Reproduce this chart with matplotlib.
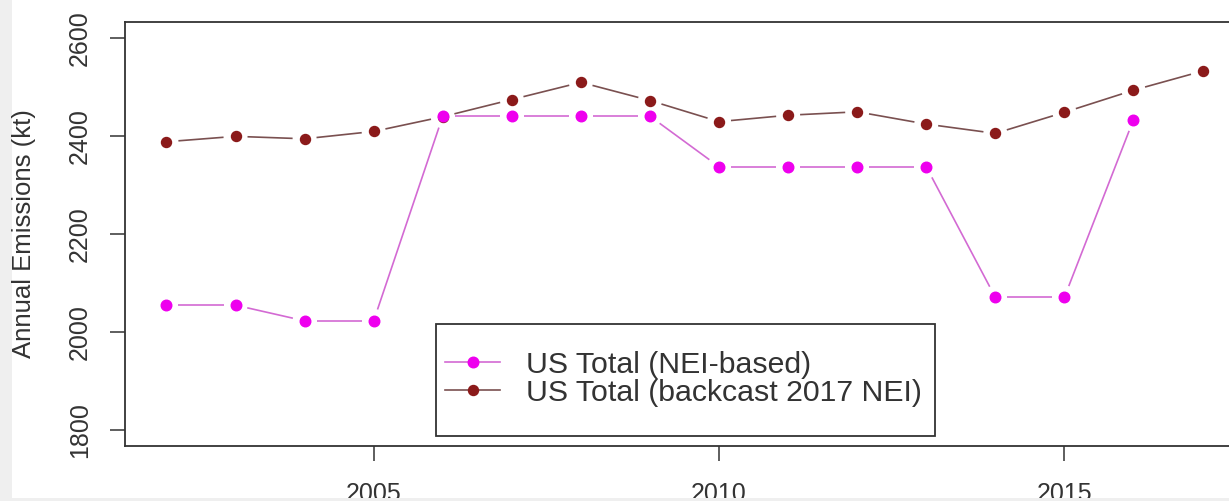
import numpy as np
import matplotlib
matplotlib.use("Agg")
import matplotlib.pyplot as plt
from matplotlib.lines import Line2D
from matplotlib.patches import Rectangle

# ---- data -------------------------------------------------------------
years = list(range(2002, 2018))
nei_years = list(range(2002, 2017))
nei_based = [2055, 2055, 2023, 2023, 2440, 2440, 2440, 2440,
             2337, 2337, 2337, 2337, 2071, 2071, 2433]
backcast_2017 = [2388, 2399, 2394, 2409, 2439, 2474, 2509, 2472,
                 2429, 2442, 2449, 2424, 2405, 2448, 2493, 2532]
y_ticks = [1800, 2000, 2200, 2400, 2600]
x_ticks = [2005, 2010, 2015]
series_labels = ["US Total (NEI-based)", "US Total (backcast 2017 NEI)"]
y_label = "Annual Emissions (kt)"

# ---- styling ----------------------------------------------------------
W, H, DPI = 1229, 501, 100
FONT = ["Liberation Sans", "DejaVu Sans"]
TXT = "#333333"
PINK_PT, PINK_LN = "#ee00ee", "#d36ad3"
RED_PT, RED_LN = "#8b1a1a", "#7a5050"

plt.rcParams["font.family"] = FONT

fig = plt.figure(figsize=(W / DPI, H / DPI), dpi=DPI, facecolor="white")


def px_box(l, t, r, b):
    return [l / W, 1 - b / H, (r - l) / W, (b - t) / H]


ax = fig.add_axes(px_box(125, 22, 1244, 446))
ax.set_xlim(2001.4, 2017.6)
ax.set_ylim(1768, 2632)
ax.set_facecolor("white")


def gapped_lines(ax, xs, ys, gap_px, **kw):
    """Connect points with segments that stop short of each marker."""
    pts = ax.transData.transform(np.column_stack([xs, ys]))
    inv = ax.transData.inverted()
    for p0, p1 in zip(pts[:-1], pts[1:]):
        d = p1 - p0
        length = np.hypot(*d)
        if length <= 2 * gap_px:
            continue
        u = d / length
        a = inv.transform(p0 + u * gap_px)
        b = inv.transform(p1 - u * gap_px)
        ax.plot([a[0], b[0]], [a[1], b[1]], solid_capstyle="butt", **kw)


GAP = 12
gapped_lines(ax, years, backcast_2017, GAP, color=RED_LN, lw=1.2)
ax.plot(years, backcast_2017, ls="none", marker="o", ms=7.2,
        color=RED_PT, mec=RED_PT)
gapped_lines(ax, nei_years, nei_based, GAP, color=PINK_LN, lw=1.2)
ax.plot(nei_years, nei_based, ls="none", marker="o", ms=7.6,
        color=PINK_PT, mec=PINK_PT)

# ---- axes -------------------------------------------------------------
ax.set_xticks(x_ticks)
ax.set_yticks(y_ticks)
ax.tick_params(axis="both", length=10.8, width=1.1, colors=TXT,
               labelsize=18)
ax.tick_params(axis="x", pad=15)
ax.tick_params(axis="y", pad=13)
for lab in ax.get_yticklabels():
    lab.set_rotation(90)
    lab.set_va("center")
for s in ("left", "bottom", "top"):
    ax.spines[s].set_color(TXT)
    ax.spines[s].set_linewidth(1.3)
ax.spines["right"].set_visible(False)

fig.text(24 / W, 1 - 234 / H, y_label, rotation=90, ha="center",
         va="center", fontsize=18.5, color=TXT)

# ---- legend -----------------------------------------------------------
handles = [
    Line2D([], [], color=PINK_LN, lw=1.2, marker="o", ms=7.6,
           mfc=PINK_PT, mec=PINK_PT),
    Line2D([], [], color=RED_LN, lw=1.2, marker="o", ms=7.2,
           mfc=RED_PT, mec=RED_PT),
]
leg = ax.legend(handles, series_labels, loc="upper left",
                bbox_to_anchor=(445 / W, 1 - 351 / H),
                bbox_transform=fig.transFigure, frameon=False,
                borderpad=0, borderaxespad=0, fontsize=21.8,
                handlelength=1.82, handletextpad=0.85,
                labelspacing=0.0, numpoints=1)
for t in leg.get_texts():
    t.set_color(TXT)

l, t, r, b = 436, 324, 935, 436
fig.add_artist(Rectangle((l / W, 1 - b / H), (r - l) / W, (b - t) / H,
                         transform=fig.transFigure, fill=False,
                         edgecolor=TXT, lw=1.3, zorder=5))

# ---- page edges -------------------------------------------------------
fig.add_artist(Rectangle((0, 0), 12 / W, 1, transform=fig.transFigure,
                         color="#efefef", lw=0, zorder=-5))
fig.add_artist(Rectangle((0, 0), 1, 3 / H, transform=fig.transFigure,
                         color="#efefef", lw=0, zorder=20))

fig.savefig("out.png", dpi=DPI, facecolor=fig.get_facecolor())
